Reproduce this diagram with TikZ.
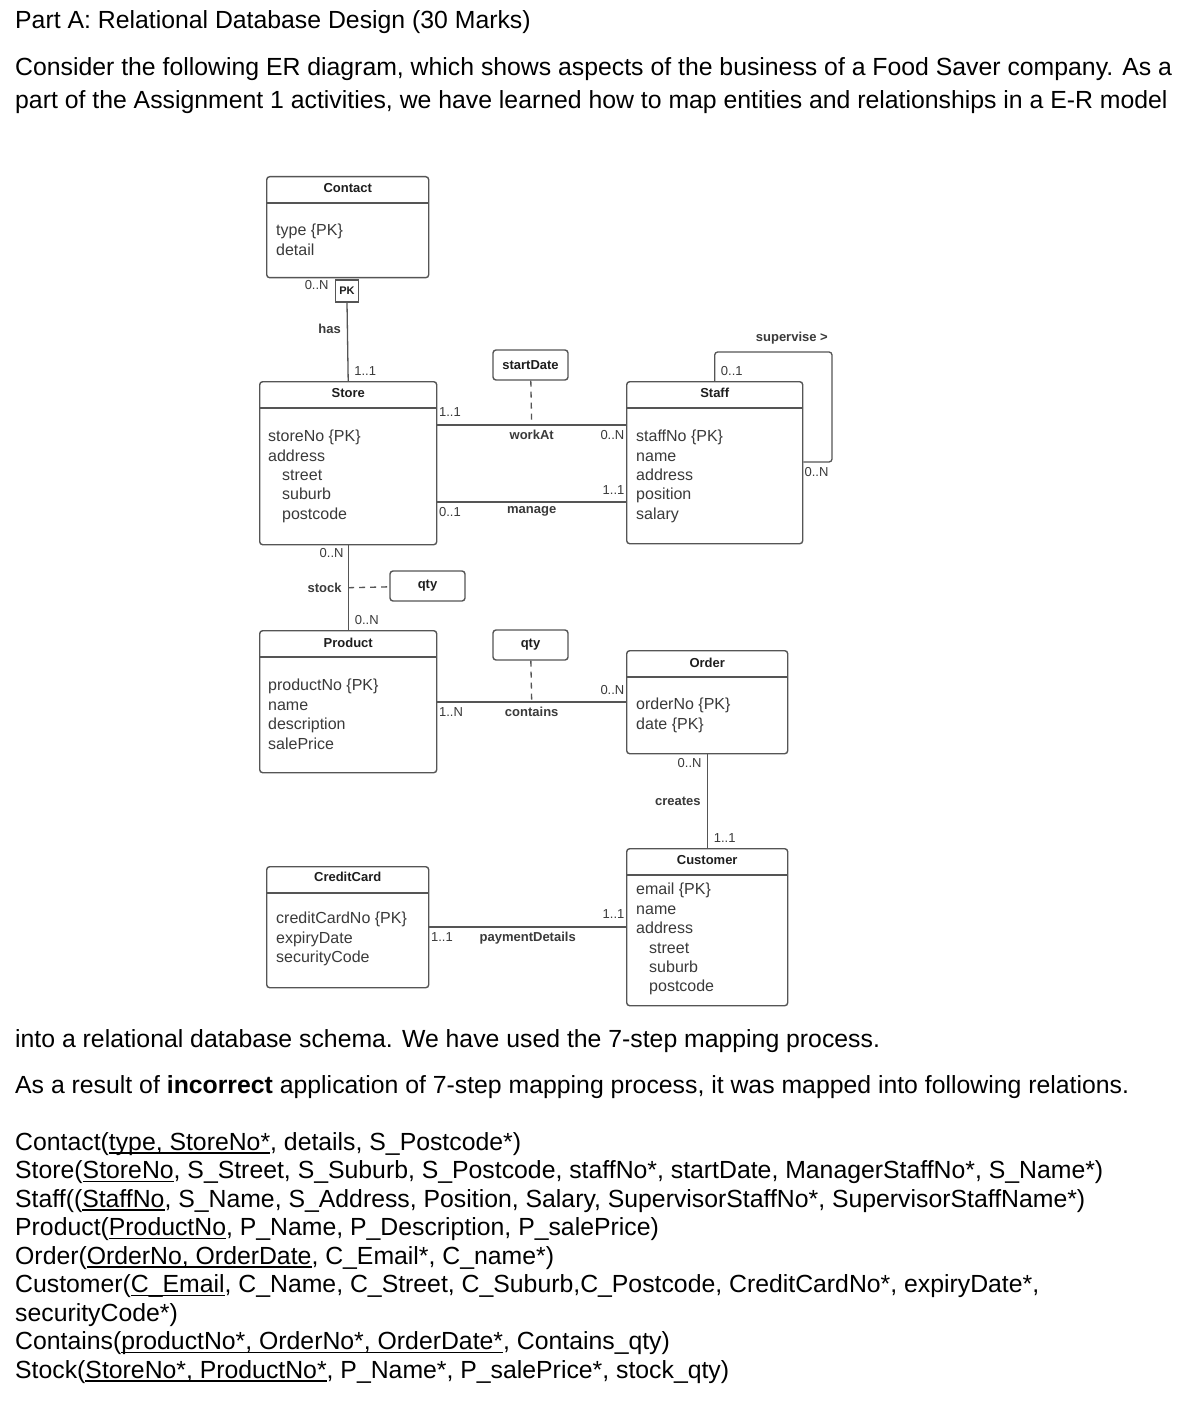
\documentclass[tikz,border=0pt]{standalone}
\usepackage{fontspec}
\setmainfont{Liberation Sans}
\usetikzlibrary{calc}

\definecolor{lnc}{HTML}{555555}
\definecolor{atc}{HTML}{3A3A3A}
\definecolor{ttc}{HTML}{1E1E1E}

\newsavebox\pkbox
\newcommand{\pkey}[1]{\sbox\pkbox{#1}\rlap{\rule[-3.6pt]{\wd\pkbox}{1.3pt}}\usebox\pkbox}

\begin{document}
\begin{tikzpicture}[x=1pt, y=-1pt,
  ent/.style={draw=lnc, line width=1.4pt, rounded corners=3pt, inner sep=0pt,
              anchor=north west},
  hdr/.style={font=\bfseries\fontsize{13}{15}\selectfont, text=ttc, inner sep=0pt},
  att/.style={font=\fontsize{16}{19.4}\selectfont, text=atc, align=left,
              anchor=north west, inner sep=0pt},
  conn/.style={draw=lnc, line width=1.3pt},
  lnk/.style={conn, dash pattern=on 6pt off 5pt},
  rel/.style={font=\bfseries\fontsize{13}{15}\selectfont, text=atc, inner sep=1pt},
  mult/.style={font=\fontsize{13}{15}\selectfont, text=atc, inner xsep=1pt, inner ysep=5pt},
  attbox/.style={draw=lnc, line width=1.4pt, rounded corners=3pt, minimum width=75pt,
                 minimum height=30pt, inner sep=0pt,
                 font=\bfseries\fontsize{13}{15}\selectfont, text=ttc},
  para/.style={font=\fontsize{24.8}{28}\selectfont, inner sep=0pt, anchor=base west}]

  \useasboundingbox[fill=white] (0,0) rectangle (1193,1404);

  % question text
  \node[para] (partA) at (15,29) {Part A: Relational Database Design (30 Marks)};
  \node[para] (intro1) at (15,76) {Consider the following ER diagram, which shows aspects of the business of a Food Saver company. As a};
  \node[para] (intro2) at (15,109) {part of the Assignment 1 activities, we have learned how to map entities and relationships in a E-R model};

  % entities
  \node[ent, minimum width=162pt, minimum height=101pt] (contact) at (266,176) {};
  \node[ent, minimum width=177pt, minimum height=163pt] (store) at (259,381) {};
  \node[ent, minimum width=176pt, minimum height=162pt] (staff) at (626,381) {};
  \node[ent, minimum width=177pt, minimum height=142pt] (product) at (259,630) {};
  \node[ent, minimum width=161pt, minimum height=103pt] (order) at (626,650) {};
  \node[ent, minimum width=161pt, minimum height=157pt] (customer) at (626,848) {};
  \node[ent, minimum width=162pt, minimum height=121pt] (creditCard) at (266,866) {};

  \foreach \e in {contact,store,staff,product,order,customer,creditCard}
    \draw[conn] ([yshift=-27pt]\e.north west) -- ([yshift=-27pt]\e.north east);

  \node[hdr] (contactT) at ([yshift=-12pt]contact.north) {Contact};
  \node[hdr] (storeT) at ([yshift=-12pt]store.north) {Store};
  \node[hdr] (staffT) at ([yshift=-12pt]staff.north) {Staff};
  \node[hdr] (productT) at ([yshift=-13pt]product.north) {Product};
  \node[hdr] (orderT) at ([yshift=-13pt]order.north) {Order};
  \node[hdr] (customerT) at ([yshift=-12pt]customer.north) {Customer};
  \node[hdr] (creditCardT) at ([yshift=-11pt]creditCard.north) {CreditCard};

  \node[att] (contactA) at ([xshift=10pt,yshift=-48pt]contact.north west)
    {type \{PK\}\\detail};
  \node[att] (storeA) at ([xshift=9pt,yshift=-49pt]store.north west)
    {storeNo \{PK\}\\address\\\hspace*{14pt}street\\\hspace*{14pt}suburb\\\hspace*{14pt}postcode};
  \node[att] (staffA) at ([xshift=10pt,yshift=-49pt]staff.north west)
    {staffNo \{PK\}\\name\\address\\position\\salary};
  \node[att] (productA) at ([xshift=9pt,yshift=-49pt]product.north west)
    {productNo \{PK\}\\name\\description\\salePrice};
  \node[att] (orderA) at ([xshift=10pt,yshift=-48pt]order.north west)
    {orderNo \{PK\}\\date \{PK\}};
  \node[att] (customerA) at ([xshift=10pt,yshift=-35pt]customer.north west)
    {email \{PK\}\\name\\address\\\hspace*{13pt}street\\\hspace*{13pt}suburb\\\hspace*{13pt}postcode};
  \node[att] (creditCardA) at ([xshift=10pt,yshift=-46pt]creditCard.north west)
    {creditCardNo \{PK\}\\expiryDate\\securityCode};

  % attribute boxes of relationships
  \node[attbox] (startDate) at (530.5,365) {startDate};
  \node[attbox] (qtyStock) at (427.5,586) {qty};
  \node[attbox] (qtyContains) at (530.5,645) {qty};
  \node[draw=lnc, line width=1.4pt, minimum width=23pt, minimum height=22pt, inner sep=0pt,
        font=\bfseries\fontsize{11}{13}\selectfont, text=ttc] (pk) at (347,291) {PK};

  % has
  \draw[conn] (pk.south) -- node[rel, pos=0.33, left=5pt] (hasL) {has} (store.north);
  \node[mult, anchor=north east] (hasN) at ([xshift=-5pt,yshift=4pt]pk.north west) {0..N};
  \node[mult, anchor=south west] (hasOne) at ([xshift=5pt]store.north) {1..1};

  % workAt
  \draw[conn] ([yshift=-44pt]store.north east) -- coordinate[midway] (workMid)
    node[rel, midway, below=3pt] (workL) {workAt}
    node[mult, pos=0, anchor=south west, yshift=3pt] (workOne) {1..1}
    node[mult, pos=1, anchor=north east] (workN) {0..N}
    ([yshift=-44pt]staff.north west);
  \draw[lnk] (startDate) -- (workMid);

  % manage
  \draw[conn] ([yshift=-121pt]store.north east) --
    node[rel, midway, below=3pt] (manageL) {manage}
    node[mult, pos=0, anchor=north west] (manageOne) {0..1}
    node[mult, pos=1, anchor=south east, yshift=2pt] (manageStaff) {1..1}
    ([yshift=-121pt]staff.north west);

  % supervise
  \coordinate (supCorner) at (832,352);
  \draw[conn, rounded corners=3pt] (staff.north) |- (supCorner) |- ([yshift=-81pt]staff.north east);
  \node[mult, anchor=south west] (supOne) at ([xshift=5pt]staff.north) {0..1};
  \node[mult, anchor=north west] (supN) at ([yshift=-81pt]staff.north east) {0..N};
  \node[rel, anchor=south east] (supL) at ([xshift=-3pt,yshift=7pt]supCorner) {supervise >};

  % stock
  \draw[conn] (store.south) -- coordinate[midway] (stockMid)
    node[rel, midway, left=5pt] (stockL) {stock}
    node[mult, pos=0, anchor=north east, xshift=-3pt, yshift=3pt] (stockStore) {0..N}
    node[mult, pos=1, anchor=south west, xshift=5pt] (stockProd) {0..N}
    (product.north);
  \draw[lnk] (stockMid) -- (qtyStock);

  % contains
  \draw[conn] ([yshift=-72pt]product.north east) -- coordinate[midway] (containsMid)
    node[rel, midway, below=3pt] (containsL) {contains}
    node[mult, pos=0, anchor=north west] (containsProd) {1..N}
    node[mult, pos=1, anchor=south east, yshift=2pt] (containsOrd) {0..N}
    ([yshift=-52pt]order.north west);
  \draw[lnk] (qtyContains) -- (containsMid);

  % creates
  \draw[conn] (order.south) --
    node[rel, midway, left=5pt] (createsL) {creates}
    node[mult, pos=0, anchor=north east, xshift=-4pt, yshift=2pt] (createsOrd) {0..N}
    node[mult, pos=1, anchor=south west, xshift=5pt] (createsCust) {1..1}
    (customer.north);

  % paymentDetails
  \draw[conn] ([yshift=-61pt]creditCard.north east) --
    node[rel, midway, below=3pt] (payL) {paymentDetails}
    node[mult, pos=0, anchor=north west] (payCard) {1..1}
    node[mult, pos=1, anchor=south east, yshift=3pt] (payCust) {1..1}
    ([yshift=-79pt]customer.north west);

  % question text, continued
  \node[para] (mapped) at (15,1047) {into a relational database schema. We have used the 7-step mapping process.};
  \node[para] (result) at (15,1093) {As a result of \textbf{incorrect} application of 7-step mapping process, it was mapped into following relations.};

  \node[para] (schContact) at (15,1150) {Contact(\pkey{type, StoreNo*}, details, S\_Postcode*)};
  \node[para] (schStore) at (15,1178.5) {Store(\pkey{StoreNo}, S\_Street, S\_Suburb, S\_Postcode, staffNo*, startDate, ManagerStaffNo*, S\_Name*)};
  \node[para] (schStaff) at (15,1207) {Staff((\pkey{StaffNo}, S\_Name, S\_Address, Position, Salary, SupervisorStaffNo*, SupervisorStaffName*)};
  \node[para] (schProduct) at (15,1235.5) {Product(\pkey{ProductNo}, P\_Name, P\_Description, P\_salePrice)};
  \node[para] (schOrder) at (15,1264) {Order(\pkey{OrderNo, OrderDate}, C\_Email*, C\_name*)};
  \node[para] (schCustomer) at (15,1292.5) {Customer(\pkey{C\_Email}, C\_Name, C\_Street, C\_Suburb,C\_Postcode, CreditCardNo*, expiryDate*,};
  \node[para] (schCustomer2) at (15,1321) {securityCode*)};
  \node[para] (schContains) at (15,1349.5) {Contains(\pkey{productNo*, OrderNo*, OrderDate*}, Contains\_qty)};
  \node[para] (schStock) at (15,1378) {Stock(\pkey{StoreNo*, ProductNo*}, P\_Name*, P\_salePrice*, stock\_qty)};
\end{tikzpicture}
\end{document}
